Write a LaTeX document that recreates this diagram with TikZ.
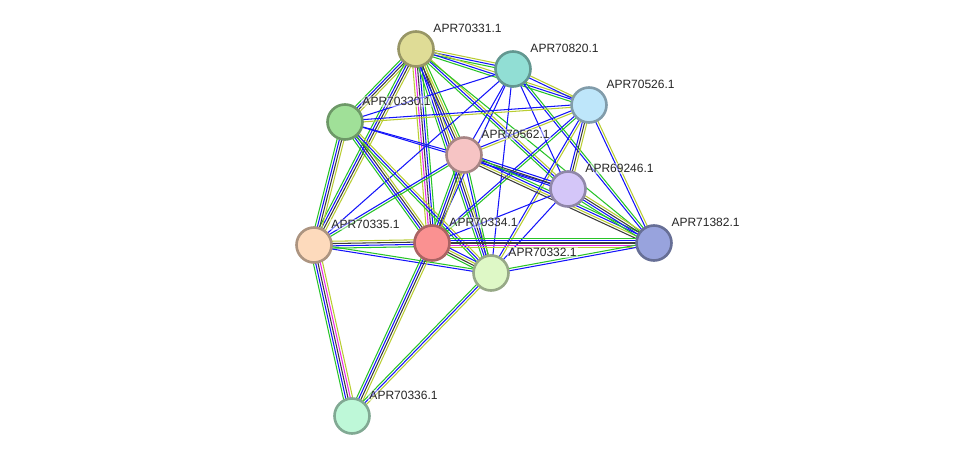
\documentclass[tikz,border=0pt]{standalone}
\usepackage{fontspec}
\setmainfont{Liberation Sans}
\usetikzlibrary{calc,backgrounds}
\definecolor{egreen}{RGB}{40,195,40}
\definecolor{eblue}{RGB}{20,20,250}
\definecolor{egray}{RGB}{60,60,60}
\definecolor{epink}{RGB}{230,40,230}
\definecolor{eolive}{RGB}{185,205,50}
\definecolor{k70331}{RGB}{223,220,150}
\definecolor{k70820}{RGB}{145,222,212}
\definecolor{k70526}{RGB}{190,230,250}
\definecolor{k70330}{RGB}{160,224,152}
\definecolor{k70562}{RGB}{246,196,196}
\definecolor{k69246}{RGB}{212,198,248}
\definecolor{k71382}{RGB}{152,163,221}
\definecolor{k70335}{RGB}{253,218,188}
\definecolor{k70334}{RGB}{250,145,145}
\definecolor{k70332}{RGB}{222,248,198}
\definecolor{k70336}{RGB}{190,248,216}

% parallel coloured strands between two proteins
\newcommand{\ppilink}[3]{%
  \xdef\nstrand{0}%
  \foreach \c in #3 {\pgfmathtruncatemacro\tmpn{\nstrand+1}\xdef\nstrand{\tmpn}}%
  \foreach \c [count=\k] in #3 {%
    \pgfmathsetmacro\off{(\k-(\nstrand+1)/2)*2.3}%
    \draw[strand,\c] ($(#1)!\off pt!90:(#2)$) -- ($(#2)!\off pt!-90:(#1)$);
  }%
}

\begin{document}
\begin{tikzpicture}[x=1pt,y=-1pt,
    prot/.style={circle,draw=#1!68!black,fill=#1,line width=2.6pt,minimum size=35pt,inner sep=0pt},
    lbl/.style={font=\fontsize{12}{12}\selectfont,inner sep=1pt,text=black!85,xshift=3pt,yshift=2pt,
      fill=white,fill opacity=0.45,text opacity=1},
    strand/.style={line width=1.05pt}]
  \useasboundingbox (0,0) rectangle (975,462);
  \foreach \n/\x/\y in {70331/416/49,70820/513/69,70526/589/105,70330/345/122,
      70562/464/155,69246/568/189,71382/654/243,70335/314/245,70334/432/243,
      70332/491/273,70336/352/416}
    \node[prot=k\n,label={[lbl,anchor=south west]45:APR\n.1}] (p\n) at (\x,\y) {};
  \begin{scope}[on background layer]
    \foreach \a/\b/\cs in {
        70331/70820/{egreen,eblue,eolive},
        70331/70526/{egreen,eblue,eolive},
        70331/70330/{egreen,eblue,egray,eolive},
        70331/70335/{egreen,eblue,egray,eolive},
        70331/70334/{eolive,epink,egray,eblue,egreen},
        70331/70332/{egreen,eblue,egray,eolive},
        70331/70562/{eblue,egray,eolive,egreen},
        70331/69246/{egreen,eblue,eolive},
        70331/71382/{egreen},
        70820/70330/{eblue},
        70820/70562/{eblue},
        70820/70526/{eblue,eolive},
        70820/69246/{eblue},
        70820/71382/{eblue,egreen},
        70820/70334/{eblue},
        70820/70332/{eblue},
        70820/70335/{eblue},
        70526/70330/{eblue,eolive},
        70526/70562/{eblue,eolive},
        70526/69246/{eblue,egray,eolive},
        70526/71382/{eblue,eolive},
        70526/70334/{eblue,egreen},
        70526/70332/{eblue,eolive},
        70330/70562/{eblue},
        70330/70335/{egreen,eblue,egray,eolive},
        70330/70334/{egreen,eblue,egray,eolive},
        70330/70332/{egreen,eblue,eolive},
        70330/69246/{eblue},
        70562/69246/{eblue,egray,eblue},
        70562/71382/{egray,eolive,eblue,egreen},
        70562/70334/{egreen,eblue,egray,eolive},
        70562/70332/{eblue,egreen},
        70562/70335/{eblue,egreen},
        69246/71382/{egreen,eblue,egray,eolive},
        69246/70334/{eblue},
        69246/70332/{eblue},
        71382/70334/{egreen,eblue,egray,epink,eolive},
        71382/70332/{egreen,eblue},
        70334/70335/{eolive,egray,eblue,egreen},
        70334/70332/{egreen,egray,eolive,eblue},
        70335/70332/{eblue,egreen},
        70336/70335/{eolive,epink,egray,eblue,egreen},
        70336/70334/{eolive,egray,eblue,egreen},
        70336/70332/{eolive,eblue,egreen}}
      {\ppilink{p\a}{p\b}{\cs}}
  \end{scope}
\end{tikzpicture}
\end{document}
